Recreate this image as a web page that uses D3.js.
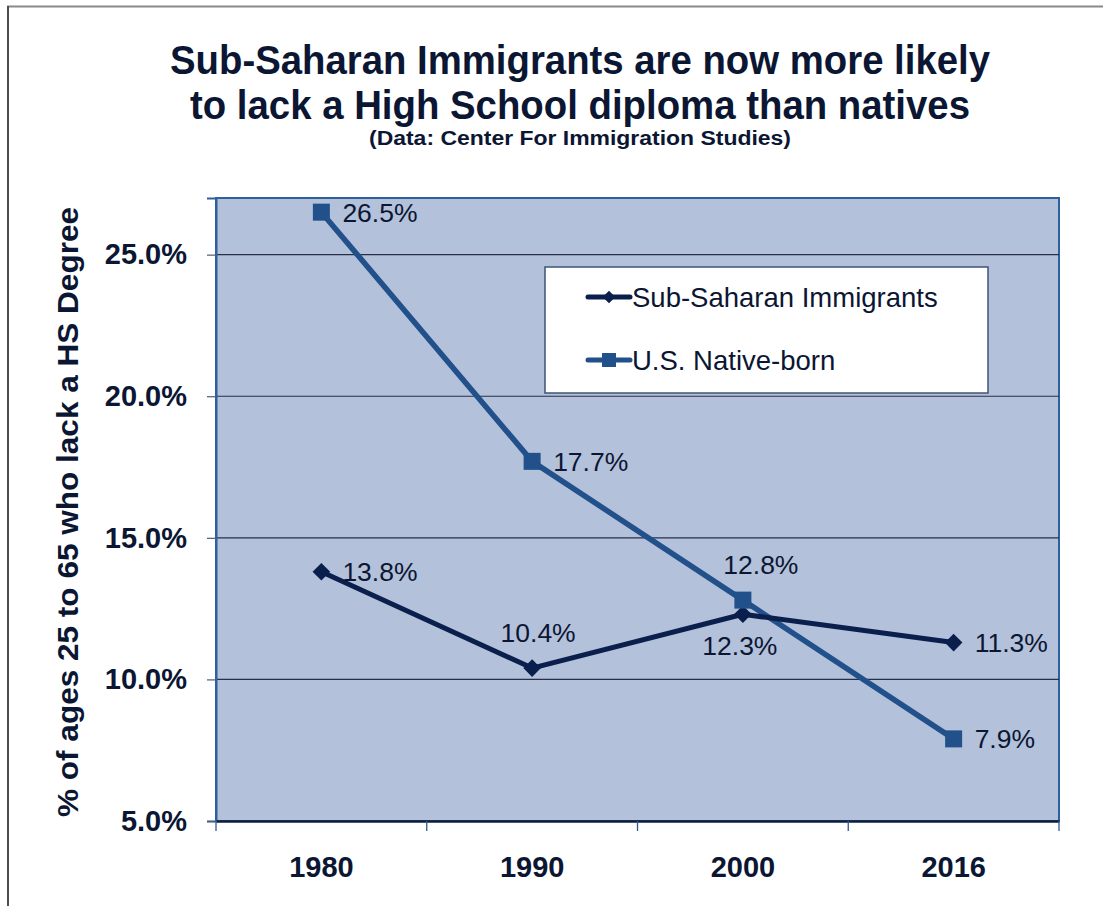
<!DOCTYPE html>
<html>
<head>
<meta charset="utf-8">
<script src="https://cdn.jsdelivr.net/npm/d3@7"></script>
<style>
  html, body { margin: 0; padding: 0; background: #ffffff; }
  svg { display: block; }
  text { font-family: "Liberation Sans", Arial, Helvetica, sans-serif; }
</style>
</head>
<body>
<div id="chart"></div>
<script>
// ---- data ----
const years = ["1980", "1990", "2000", "2016"];
const subSaharan = [13.8, 10.4, 12.3, 11.3];
const nativeBorn = [26.5, 17.7, 12.8, 7.9];
const yTicks = [5, 10, 15, 20, 25];
const seriesNames = ["Sub-Saharan Immigrants", "U.S. Native-born"];
const titleLines = ["Sub-Saharan Immigrants are now more likely", "to lack a High School diploma than natives"];
const subtitle = "(Data: Center For Immigration Studies)";
const yTitle = "% of ages 25 to 65 who lack a HS Degree";

// label placement (style only)
const subLabelPlace = [{p:"right"}, {p:"above", dx:6}, {p:"below", dx:-3}, {p:"right"}];
const nativeLabelPlace = [{p:"right"}, {p:"right"}, {p:"above", dx:18}, {p:"right"}];

// ---- layout ----
const W = 1103, H = 906;
const plot = {left: 216, right: 1059, top: 198, bottom: 821};
const textColor = "#0b1633";
const subColor = "#0a1f4c";
const nativeColor = "#21508a";
const plotBg = "#b3c1da";

const svg = d3.select("#chart").append("svg").attr("width", W).attr("height", H);

// outer border
svg.append("line").attr("x1", 7).attr("x2", W).attr("y1", 6.5).attr("y2", 6.5)
  .attr("stroke", "#8a8a8a").attr("stroke-width", 2);
svg.append("line").attr("x1", 8).attr("x2", 8).attr("y1", 6).attr("y2", H)
  .attr("stroke", "#4d4d4d").attr("stroke-width", 2);

// title
const title = svg.append("g");
title.append("text").attr("x", 580).attr("y", 74).attr("text-anchor", "middle")
  .attr("font-size", 40).attr("font-weight", "bold").attr("fill", textColor)
  .attr("textLength", 820).attr("lengthAdjust", "spacingAndGlyphs").text(titleLines[0]);
title.append("text").attr("x", 580).attr("y", 119).attr("text-anchor", "middle")
  .attr("font-size", 40).attr("font-weight", "bold").attr("fill", textColor)
  .attr("textLength", 780).attr("lengthAdjust", "spacingAndGlyphs").text(titleLines[1]);
title.append("text").attr("x", 580).attr("y", 145).attr("text-anchor", "middle")
  .attr("font-size", 20).attr("font-weight", "bold").attr("fill", textColor)
  .attr("textLength", 422).attr("lengthAdjust", "spacingAndGlyphs").text(subtitle);

// scales
const x = d3.scaleBand().domain(years).range([plot.left, plot.right]).paddingInner(0).paddingOuter(0);
const y = d3.scaleLinear().domain([5, 27]).range([plot.bottom, plot.top]);
const cx = d => x(d) + x.bandwidth() / 2;

// plot background
svg.append("rect").attr("x", plot.left).attr("y", plot.top)
  .attr("width", plot.right - plot.left).attr("height", plot.bottom - plot.top)
  .attr("fill", plotBg).attr("stroke", "#2f609e").attr("stroke-width", 2);

// gridlines
svg.append("g").selectAll("line").data(yTicks.filter(t => t > 5)).join("line")
  .attr("x1", plot.left).attr("x2", plot.right)
  .attr("y1", d => y(d)).attr("y2", d => y(d))
  .attr("stroke", "#2a2f48").attr("stroke-width", 1.2);

// y axis
const yAxis = svg.append("g").attr("transform", `translate(${plot.left},0)`)
  .call(d3.axisLeft(y).tickValues(yTicks).tickSize(9).tickPadding(20)
    .tickFormat(d => d.toFixed(1) + "%"));
yAxis.select(".domain").attr("stroke", "#2f609e").attr("stroke-width", 2);
yAxis.selectAll(".tick line").attr("stroke", "#555a6e").attr("stroke-width", 1.2);
yAxis.selectAll(".tick text").attr("font-size", 29).attr("font-weight", "bold")
  .attr("fill", textColor).attr("font-family", "'Liberation Sans', Arial, sans-serif");

// y title
svg.append("text")
  .attr("transform", `translate(78,512) rotate(-90)`)
  .attr("text-anchor", "middle")
  .attr("font-size", 29).attr("font-weight", "bold").attr("fill", textColor)
  .attr("textLength", 610).attr("lengthAdjust", "spacingAndGlyphs")
  .text(yTitle);

// x axis
const xAxis = svg.append("g").attr("transform", `translate(0,${plot.bottom})`)
  .call(d3.axisBottom(x).tickSize(0).tickPadding(35));
xAxis.select(".domain").attr("stroke", "#0e1c3f").attr("stroke-width", 2.5);
xAxis.selectAll(".tick text").attr("font-size", 29).attr("font-weight", "bold")
  .attr("fill", textColor).attr("font-family", "'Liberation Sans', Arial, sans-serif");
// boundary ticks
const bounds = years.map(d => x(d)).concat([x.range()[1]]);
svg.append("g").selectAll("line").data(bounds).join("line")
  .attr("x1", d => d).attr("x2", d => d)
  .attr("y1", plot.bottom).attr("y2", plot.bottom + 10)
  .attr("stroke", "#2f5a8e").attr("stroke-width", 1.3);

// lines
const line = d3.line().x((d, i) => cx(years[i])).y(d => y(d));

svg.append("path").datum(nativeBorn).attr("d", line)
  .attr("fill", "none").attr("stroke", nativeColor).attr("stroke-width", 5.5)
  .attr("stroke-linejoin", "round");
svg.append("path").datum(subSaharan).attr("d", line)
  .attr("fill", "none").attr("stroke", subColor).attr("stroke-width", 5)
  .attr("stroke-linejoin", "round");

// markers
svg.append("g").selectAll("path").data(subSaharan).join("path")
  .attr("transform", (d, i) => `translate(${cx(years[i])},${y(d)}) rotate(45)`)
  .attr("d", d3.symbol().type(d3.symbolSquare).size(155))
  .attr("fill", subColor);
svg.append("g").selectAll("rect").data(nativeBorn).join("rect")
  .attr("x", (d, i) => cx(years[i]) - 8.5).attr("y", d => y(d) - 8.5)
  .attr("width", 17).attr("height", 17)
  .attr("fill", nativeColor);

// data labels
function addLabels(values, places) {
  svg.append("g").selectAll("text").data(values).join("text")
    .attr("x", (d, i) => {
      const pl = places[i];
      const px = cx(years[i]);
      if (pl.p === "right") return px + 21;
      return px + (pl.dx || 0);
    })
    .attr("y", (d, i) => {
      const pl = places[i];
      const py = y(d);
      if (pl.p === "above") return py - 36;
      if (pl.p === "below") return py + 31;
      return py;
    })
    .attr("dy", "0.36em")
    .attr("text-anchor", (d, i) => places[i].p === "right" ? "start" : "middle")
    .attr("font-size", 26.5).attr("fill", textColor)
    .text(d => d.toFixed(1) + "%");
}
addLabels(nativeBorn, nativeLabelPlace);
addLabels(subSaharan, subLabelPlace);

// legend
const legend = svg.append("g");
legend.append("rect").attr("x", 545).attr("y", 267).attr("width", 443).attr("height", 126)
  .attr("fill", "#ffffff").attr("stroke", "#3e5478").attr("stroke-width", 1.5);
const legRows = [
  {name: seriesNames[0], color: subColor, type: "diamond", y: 297},
  {name: seriesNames[1], color: nativeColor, type: "square", y: 360}
];
legRows.forEach(r => {
  legend.append("line").attr("x1", 588).attr("x2", 630).attr("y1", r.y).attr("y2", r.y)
    .attr("stroke", r.color).attr("stroke-width", 5).attr("stroke-linecap", "round");
  if (r.type === "diamond") {
    legend.append("path").attr("transform", `translate(609,${r.y}) rotate(45)`)
      .attr("d", d3.symbol().type(d3.symbolSquare).size(80)).attr("fill", r.color);
  } else {
    legend.append("rect").attr("x", 602).attr("y", r.y - 7).attr("width", 14).attr("height", 14)
      .attr("fill", r.color);
  }
  legend.append("text").attr("x", 632).attr("y", r.y).attr("dy", "0.36em")
    .attr("font-size", 27.5).attr("fill", textColor).text(r.name);
});
</script>
</body>
</html>
